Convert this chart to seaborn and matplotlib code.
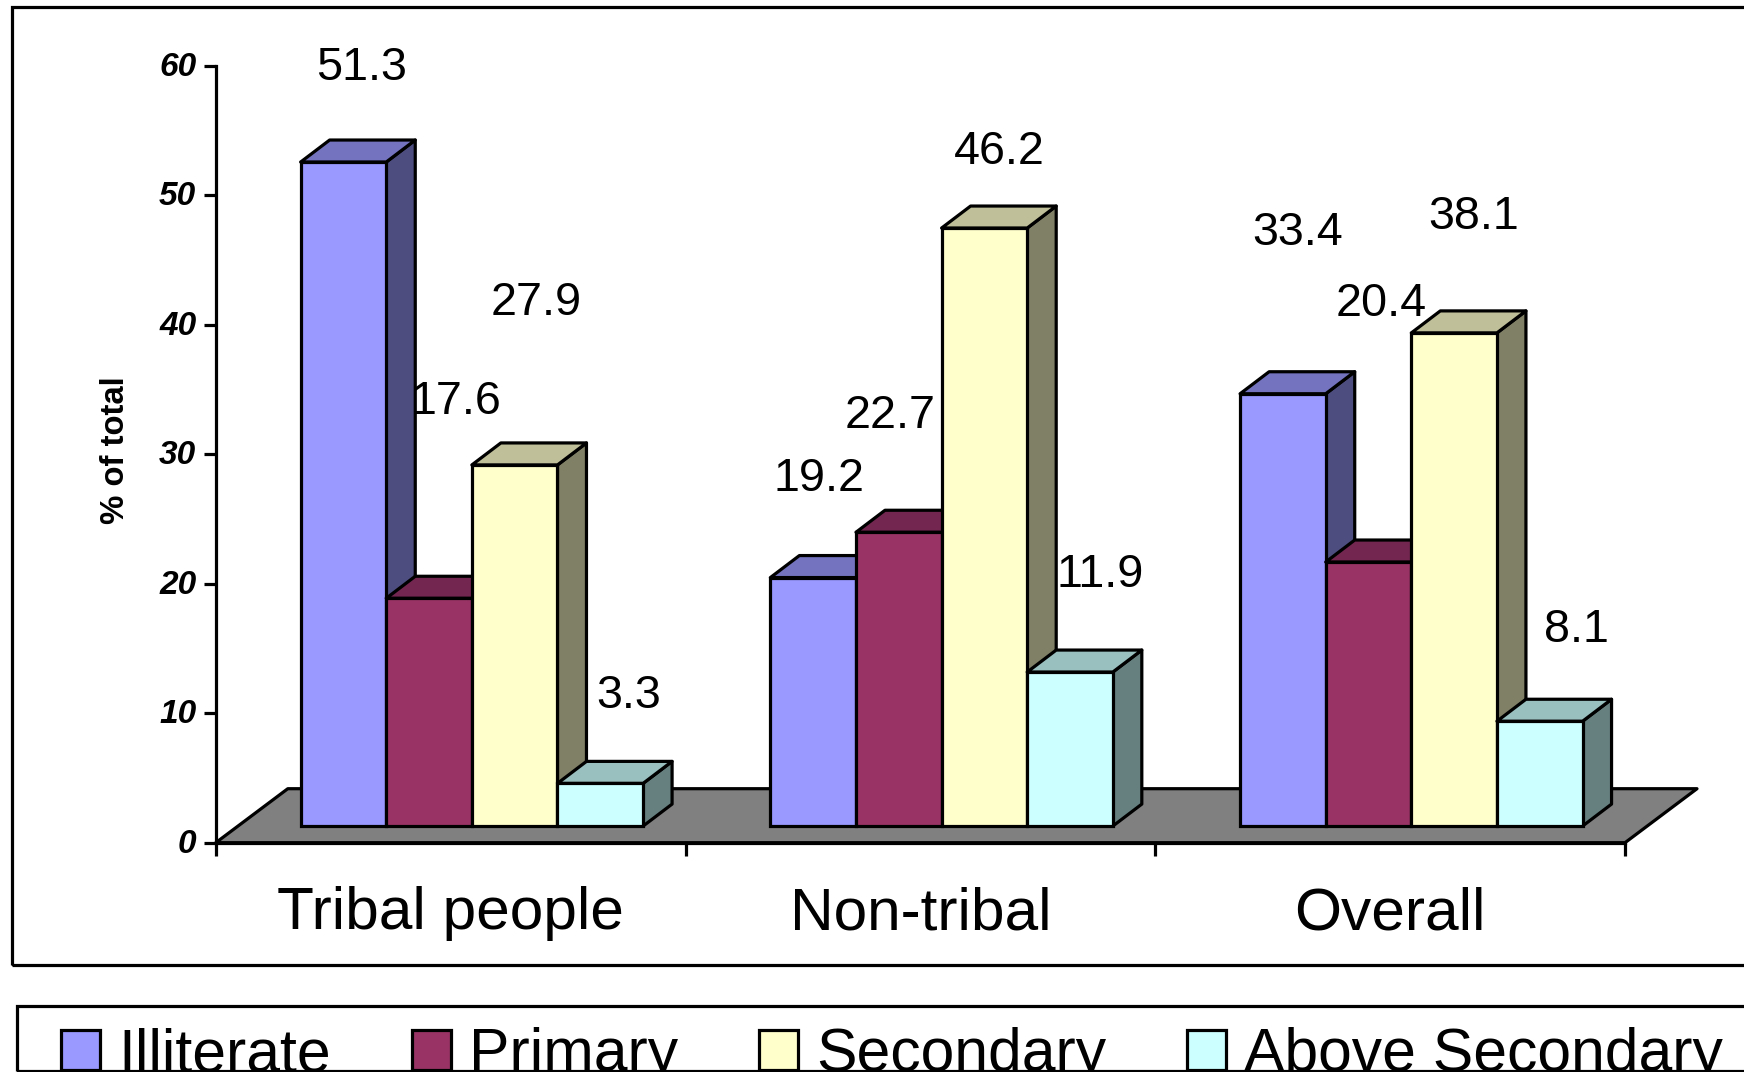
import matplotlib
matplotlib.use("Agg")
import matplotlib.pyplot as plt
from matplotlib.patches import Polygon, Rectangle
from matplotlib.transforms import ScaledTranslation
import pandas as pd
import seaborn as sns

groups = ["Tribal people", "Non-tribal", "Overall"]
levels = ["Illiterate", "Primary", "Secondary", "Above Secondary"]
illiterate = [51.3, 19.2, 33.4]
primary = [17.6, 22.7, 20.4]
secondary = [27.9, 46.2, 38.1]
above_secondary = [3.3, 11.9, 8.1]

front_colors = ["#9999FF", "#993366", "#FFFFCC", "#CCFFFF"]
top_colors = ["#7373BF", "#732650", "#BFBF99", "#99BFBF"]
side_colors = ["#4D4D80", "#4D1A33", "#808066", "#668080"]

# Label offsets from the top centre of each front face, in pixels,
# listed level by level to follow the order of the bars
label_dx = [18, 6, 15, 27, -9, 13, 22, 15, 20, 28, 30, 37]
label_dy = [94, 99, 161, 196, 116, 258, 162, 76, 116, 87, 97, 91]

W, H = 1744, 1072
AX_L, AX_R, AX_T, AX_B = 215.8, 1625, 66, 842.7
EDGE = 2.3
sns.set_theme(style="white")
plt.rcParams["font.family"] = ["Liberation Sans", "DejaVu Sans"]

df = pd.DataFrame({
    "group": groups * 4,
    "level": [lv for lv in levels for _ in groups],
    "value": illiterate + primary + secondary + above_secondary,
})

fig = plt.figure(figsize=(W / 100, H / 100), dpi=100, facecolor="white")
ax = fig.add_axes([AX_L / W, 1 - AX_B / H, (AX_R - AX_L) / W, (AX_B - AX_T) / H])
ax.patch.set_alpha(0)

sns.barplot(data=df, x="group", y="value", hue="level", order=groups, hue_order=levels,
            palette=front_colors, width=0.729, gap=0, saturation=1, errorbar=None,
            edgecolor="black", linewidth=EDGE, legend=True, ax=ax)

SHIFT = 21.2 / ((AX_R - AX_L) / 3)
ax.set_xlim(-0.5 - SHIFT, 2.5 - SHIFT)
ax.set_ylim(0, 60)
px_x = 3 / (AX_R - AX_L)
px_y = 60 / (AX_B - AX_T)

# Floor plane
x0, x1 = ax.get_xlim()
ax.add_patch(Polygon([(x0, 0), (x1, 0), (x1 + 72 * px_x, 54 * px_y), (x0 + 72 * px_x, 54 * px_y)],
                     closed=True, facecolor="#808080", edgecolor="black", linewidth=EDGE,
                     joinstyle="round", clip_on=False, zorder=1))

# Extrude every bar: depth faces first, then its front, ordered left to right
handles, labels = ax.get_legend_handles_labels()
ax.get_legend().remove()
bars = [p for c in ax.containers for p in c.patches]
vals = df["value"].tolist()
order = sorted(range(len(bars)), key=lambda i: bars[i].get_x())
dx, dy = 29 * px_x, 22 * px_y
RAISE = 16.6 * px_y  # the bars stand on the floor, a little behind the axis line
for rank, i in enumerate(order):
    b = bars[i]
    b.set_y(RAISE)
    lvl = i // 3
    xl, xr = b.get_x(), b.get_x() + b.get_width()
    yb, yt = b.get_y(), b.get_y() + b.get_height()
    z = 3 + rank * 0.1
    ax.add_patch(Polygon([(xr, yb), (xr + dx, yb + dy), (xr + dx, yt + dy), (xr, yt)], closed=True,
                         facecolor=side_colors[lvl], edgecolor="black", linewidth=EDGE,
                         joinstyle="round", clip_on=False, zorder=z))
    ax.add_patch(Polygon([(xl, yt), (xl + dx, yt + dy), (xr + dx, yt + dy), (xr, yt)], closed=True,
                         facecolor=top_colors[lvl], edgecolor="black", linewidth=EDGE,
                         joinstyle="round", clip_on=False, zorder=z + 0.01))
    b.set_zorder(z + 0.02)
    b.set_clip_on(False)
    ax.annotate(f"{vals[i]:.1f}", xy=(b.get_x() + b.get_width() / 2, yt),
                xytext=(label_dx[i], label_dy[i]), textcoords="offset pixels",
                ha="center", va="center", fontsize=33.7, color="black", zorder=20)

sns.despine(ax=ax)
for side in ("left", "bottom"):
    ax.spines[side].set_linewidth(EDGE)
    ax.spines[side].set_zorder(2.5)
    ax.spines[side].set_color("black")

ax.set_yticks(range(0, 61, 10))
ax.tick_params(axis="y", which="major", length=9, width=EDGE, pad=5, left=True, color="black")
lift = ScaledTranslation(0, 2 / 100, fig.dpi_scale_trans)
for t in ax.get_yticklabels():
    t.set_fontsize(24)
    t.set_fontweight("bold")
    t.set_fontstyle("italic")
    t.set_color("black")
    t.set_transform(t.get_transform() + lift)

# Boundary ticks between groups, names centred between them
ax.set_xticks([x0 + k for k in range(4)], [""] * 4)
ax.set_xticks([x0 + 0.5 + k for k in range(3)], groups, minor=True)
ax.tick_params(axis="x", which="major", length=9, width=EDGE, bottom=True, color="black")
ax.tick_params(axis="x", which="minor", length=0, pad=31.5, labelsize=43.5, labelcolor="black")
ax.set_xlabel("")
ax.set_ylabel("% of total", fontsize=23.7, fontweight="bold", color="black")
ax.yaxis.set_label_coords((131 - AX_L) / (AX_R - AX_L), 0.505)

# Outer boxes run past the right edge of the figure
fig.add_artist(Rectangle((12 / W, 1 - 965 / H), 1800 / W, 958 / H, transform=fig.transFigure,
                         facecolor="none", edgecolor="black", linewidth=EDGE))
fig.add_artist(Rectangle((17 / W, 1 - 1071 / H), 1800 / W, 65 / H, transform=fig.transFigure,
                         facecolor="none", edgecolor="black", linewidth=EDGE))

leg = fig.legend(handles, labels, ncol=4, loc="upper left", bbox_to_anchor=(61 / W, 1 - 1027 / H),
                 frameon=False, fontsize=43.7, handlelength=0.645, handleheight=0.645,
                 handletextpad=0.30, columnspacing=1.33, borderpad=0, borderaxespad=0, labelcolor="black")

fig.savefig("out.png", dpi=100)
